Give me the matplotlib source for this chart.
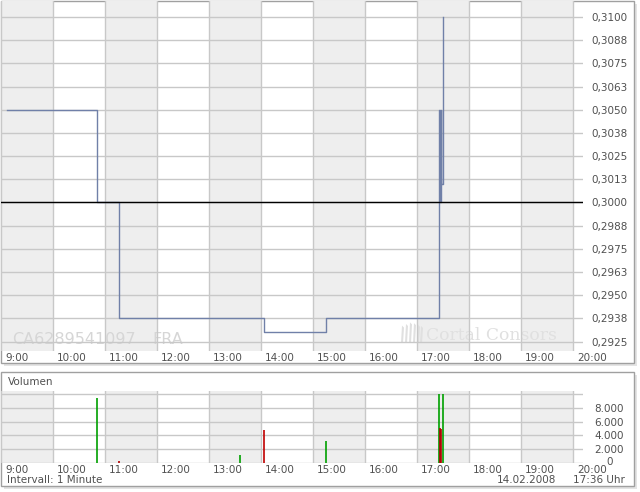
import matplotlib
matplotlib.use("Agg")
import matplotlib.pyplot as plt
from matplotlib.patches import Rectangle, Polygon

# Kursdaten (Minutenintervall), Zeiten als HH:MM[:SS]
trade_times = ["09:06", "10:51", "11:16", "13:35", "14:03", "15:15",
               "17:25", "17:26", "17:27", "17:27:30", "17:30"]
trade_prices = [0.3050, 0.3000, 0.29375, 0.29375, 0.2930, 0.29375,
                0.3050, 0.3000, 0.3050, 0.3010, 0.3100]
trade_volumes = [0, 9500, 200, 1100, 4800, 3200, 10000, 5100, 5000, 0, 10000]
volume_colors = ["#00a000", "#00a000", "#b00000", "#00a000", "#c00000", "#00a000",
                 "#00a000", "#b00000", "#b00000", "#b00000", "#00a000"]

prev_close = 0.3000
price_ticks = [0.2925 + i * 0.00125 for i in range(15)]
price_labels = ["0,2925", "0,2938", "0,2950", "0,2963", "0,2975", "0,2988", "0,3000",
                "0,3013", "0,3025", "0,3038", "0,3050", "0,3063", "0,3075", "0,3088", "0,3100"]
vol_ticks = [2000, 4000, 6000, 8000]
vol_labels = ["2.000", "4.000", "6.000", "8.000"]
hours = list(range(9, 21))
hour_labels = ["%d:00" % h for h in hours]

def to_hours(t):
    parts = [int(p) for p in t.split(":")] + [0]
    return parts[0] + parts[1] / 60.0 + parts[2] / 3600.0

tx = [to_hours(t) for t in trade_times]

W, H = 640, 492
fig = plt.figure(figsize=(6.4, 4.92), dpi=100)
fig.patch.set_facecolor("white")

def px(x, y):
    return x / W, 1 - y / H

txtcol = "#505050"
gridcol = "#c8c8c8"
shade = "#eeeeee"
fs = 7.5

# Rahmen der beiden Panels (mit Schatten)
for (x0, y0, x1, y1) in [(0.5, 0.5, 634, 363), (0.5, 372, 634, 486)]:
    fig.patches.append(Rectangle(px(x0 + 3, y1 + 3), (x1 - x0) / W, (y1 - y0) / H,
                                 transform=fig.transFigure, facecolor="#e4e4e4",
                                 edgecolor="none", zorder=-3))
    fig.patches.append(Rectangle(px(x0, y1), (x1 - x0) / W, (y1 - y0) / H,
                                 transform=fig.transFigure, facecolor="white",
                                 edgecolor="#a0a0a0", lw=1, zorder=-2))

xmin = 9.0
xmax = 9.0 + (583 - 1.3) / 52.0

def setup(ax):
    ax.set_xlim(xmin, xmax)
    ax.set_facecolor("none")
    for s in ax.spines.values():
        s.set_visible(False)
    for h in range(9, 20, 2):
        ax.axvspan(h, h + 1, color=shade, lw=0, zorder=0)
    for h in hours:
        ax.axvline(h, color=gridcol, lw=1, zorder=1)
    ax.set_xticks([])
    for h, lab in zip(hours, hour_labels):
        ax.annotate(lab, xy=(h, 0), xycoords=("data", "axes fraction"),
                    xytext=(2.6, -5.2), textcoords="offset points",
                    ha="left", va="center", fontsize=fs, color=txtcol)

# Kurs-Chart
l, b = px(1.3, 351)
ax = fig.add_axes([l, b, (583 - 1.3) / W, 350 / H])
setup(ax)
ax.set_ylim(0.29199, 0.310866)
for v in price_ticks:
    ax.axhline(v, color=gridcol, lw=1, zorder=1)
ax.yaxis.tick_right()
ax.set_yticks(price_ticks)
ax.set_yticklabels(price_labels)
ax.tick_params(axis="y", length=0, pad=6, labelsize=fs, labelcolor=txtcol)
ax.step(tx, trade_prices, where="post", color="#7080a8", lw=1, zorder=3)
ax.axhline(prev_close, color="black", lw=1, zorder=4)

# Wasserzeichen
wm = "#e0e0e0"
ax.text(*px(12, 340), "CA6289541097", transform=fig.transFigure, fontsize=11.5,
        color="#d6d6d6", va="center", zorder=0.5, clip_on=False)
ax.text(*px(152, 340), "FRA", transform=fig.transFigure, fontsize=11.5,
        color="#d6d6d6", va="center", zorder=0.5, clip_on=False)
ax.text(*px(426, 335), "Cortal Consors", transform=fig.transFigure, family="DejaVu Serif",
        fontsize=12.3, color=wm, va="center", zorder=0.5, clip_on=False)
# kleines Baum-Logo
for x0, x1 in [(401, 404), (405, 408), (409, 412), (413, 416), (417, 420), (420, 423)]:
    top = 322 + abs(x0 - 410) * 0.4
    ax.add_patch(Polygon([px(x0, 343), px(x0 + 1, top), px(x1, top + 2), px(x1 - 1, 343)],
                         closed=True, transform=fig.transFigure, facecolor=wm,
                         edgecolor="none", zorder=0.5, clip_on=False))

# Volumen-Chart
l, b = px(1.3, 462.7)
axv = fig.add_axes([l, b, (583 - 1.3) / W, (462.7 - 391) / H])
setup(axv)
axv.set_ylim(0, 10500)
for v in [0, 2000, 4000, 6000, 8000, 10000]:
    axv.axhline(v, color=gridcol, lw=1, zorder=1)
axv.yaxis.tick_right()
axv.set_yticks(vol_ticks)
axv.set_yticklabels(vol_labels)
axv.tick_params(axis="y", length=0, pad=8, labelsize=fs, labelcolor=txtcol)
axv.vlines(tx, 0, trade_volumes, colors=volume_colors, lw=1.2, zorder=4)

fig.text(*px(606, 462), "0", fontsize=fs, color=txtcol, va="center")
fig.text(*px(8, 382), "Volumen", fontsize=fs, color=txtcol, va="center")
fig.text(*px(7, 480), "Intervall: 1 Minute", fontsize=fs, color=txtcol, va="center")
fig.text(*px(497, 480), "14.02.2008", fontsize=fs, color=txtcol, va="center")
fig.text(*px(573, 480), "17:36 Uhr", fontsize=fs, color=txtcol, va="center")

fig.savefig("out.png", dpi=100)
